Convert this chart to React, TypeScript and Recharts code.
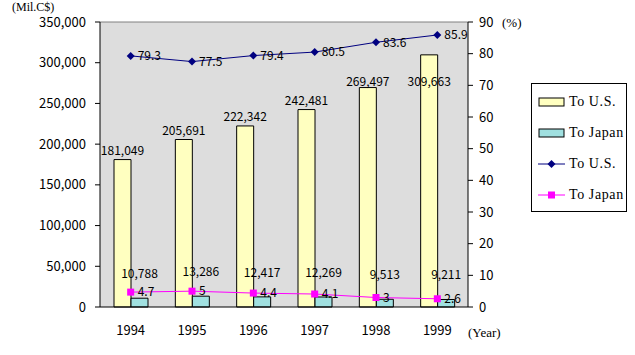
import React from 'react'
import {
  ComposedChart, Bar, Line, XAxis, YAxis, CartesianGrid, Legend, LabelList, ReferenceLine,
} from 'recharts'

const years = ['1994', '1995', '1996', '1997', '1998', '1999']
const exportsUS = [181049, 205691, 222342, 242481, 269497, 309663]
const exportsJapan = [10788, 13286, 12417, 12269, 9513, 9211]
const shareUS = [79.3, 77.5, 79.4, 80.5, 83.6, 85.9]
const shareJapan = [4.7, 5, 4.4, 4.1, 3, 2.6]
const leftTicks = [0, 50000, 100000, 150000, 200000, 250000, 300000, 350000]
const rightTicks = [0, 10, 20, 30, 40, 50, 60, 70, 80, 90]

const data = years.map((year, i) => ({
  year,
  usVal: exportsUS[i],
  jpVal: exportsJapan[i],
  usPct: shareUS[i],
  jpPct: shareJapan[i],
}))

const gothic = '"Noto Sans CJK JP", "DejaVu Sans", sans-serif'
const mincho = '"Liberation Serif", "DejaVu Serif", serif'

const fmt = (v: number) => v.toLocaleString('en-US')

const Diamond = (props: any) => {
  const { cx, cy } = props
  if (cx == null || cy == null) return null
  return <path d={`M${cx},${cy - 4}L${cx + 4},${cy}L${cx},${cy + 4}L${cx - 4},${cy}Z`} fill="#000080" />
}

const Square = (props: any) => {
  const { cx, cy } = props
  if (cx == null || cy == null) return null
  return <rect x={cx - 3.5} y={cy - 3.5} width={7} height={7} fill="#FF00FF" />
}

// US bar labels sit above the bar, but never climb into the share line labels
const UsLabel = (props: any) => {
  const { x, y, width, value } = props
  const ty = Math.max(y - 5, 86)
  return (
    <text x={x + width / 2} y={ty} textAnchor="middle" fontSize={12} fontFamily={gothic} fill="#000">
      {fmt(value)}
    </text>
  )
}

const JpLabel = (props: any) => {
  const { x, y, width, value } = props
  return (
    <text x={x + width / 2} y={y - 20} textAnchor="middle" fontSize={12} fontFamily={gothic} fill="#000">
      {fmt(value)}
    </text>
  )
}

const legendItems = [
  { label: 'To U.S.', kind: 'bar', color: '#FFFFC0' },
  { label: 'To Japan', kind: 'bar', color: '#A0E0E0' },
  { label: 'To U.S.', kind: 'line', color: '#000080' },
  { label: 'To Japan', kind: 'line', color: '#FF00FF' },
]

const LegendBox = () => (
  <div style={{ width: 96, height: 129, border: '1px solid #000', background: '#fff', boxSizing: 'border-box', paddingTop: 2 }}>
    {legendItems.map((it, i) => (
      <div key={i} style={{ display: 'flex', alignItems: 'center', height: 31, paddingLeft: 6 }}>
        <svg width={28} height={10} style={{ marginRight: 3 }}>
          {it.kind === 'bar' ? (
            <rect x={1} y={1} width={25} height={8} fill={it.color} stroke="#000" />
          ) : (
            <>
              <line x1={0} y1={5} x2={27} y2={5} stroke={it.color} strokeWidth={1} />
              {i === 2 ? (
                <path d="M13.5,1L17.5,5L13.5,9L9.5,5Z" fill={it.color} />
              ) : (
                <rect x={10} y={1.5} width={7} height={7} fill={it.color} />
              )}
            </>
          )}
        </svg>
        <span style={{ fontFamily: mincho, fontSize: 14, letterSpacing: 0.6, color: '#000' }}>{it.label}</span>
      </div>
    ))}
  </div>
)

const tickStyle = { fontSize: 13, fontFamily: gothic, fill: '#000' }

export default function App() {
  return (
    <div style={{ position: 'absolute', left: 0, top: 0, background: '#fff' }}>
      <ComposedChart
        width={635}
        height={355}
        data={data}
        margin={{ top: 22, right: 11, left: 0, bottom: 18 }}
        barGap={0}
        barSize={17}
      >
        <CartesianGrid fill="#DDDDDD" horizontal={false} vertical={false} />
        <XAxis
          dataKey="year"
          tick={tickStyle}
          tickLine={false}
          tickMargin={13}
          axisLine={{ stroke: '#000' }}
          height={30}
          label={{
            content: () => (
              <text x={468} y={337} fontSize={13} fontFamily={mincho} fill="#000">(Year)</text>
            ),
          }}
        />
        <YAxis
          yAxisId="left"
          width={100}
          domain={[0, 350000]}
          ticks={leftTicks}
          tickFormatter={fmt}
          tick={tickStyle}
          tickSize={5}
          tickMargin={9}
          axisLine={{ stroke: '#000' }}
          tickLine={{ stroke: '#000' }}
          label={{
            content: () => (
              <text x={12} y={11} fontSize={12} fontFamily={mincho} fill="#000">(Mil.C$)</text>
            ),
          }}
        />
        <YAxis
          yAxisId="right"
          orientation="right"
          width={60}
          domain={[0, 90]}
          ticks={rightTicks}
          tick={tickStyle}
          tickSize={5}
          tickMargin={6}
          axisLine={{ stroke: '#000' }}
          tickLine={{ stroke: '#000' }}
          label={{
            content: () => (
              <text x={502} y={27} fontSize={13} fontFamily={mincho} fill="#000">(%)</text>
            ),
          }}
        />
        <ReferenceLine yAxisId="left" y={350000} stroke="#808080" />
        <Bar yAxisId="left" dataKey="usVal" name="To U.S." fill="#FFFFC0" stroke="#000" isAnimationActive={false}>
          <LabelList dataKey="usVal" content={UsLabel} />
        </Bar>
        <Bar yAxisId="left" dataKey="jpVal" name="To Japan" fill="#A0E0E0" stroke="#000" isAnimationActive={false}>
          <LabelList dataKey="jpVal" content={JpLabel} />
        </Bar>
        <Line
          yAxisId="right"
          dataKey="usPct"
          name="To U.S."
          stroke="#000080"
          strokeWidth={1}
          dot={<Diamond />}
          activeDot={false}
          isAnimationActive={false}
        >
          <LabelList dataKey="usPct" position="right" offset={7} style={{ fontSize: 12, fontFamily: gothic, fill: '#000' }} />
        </Line>
        <Line
          yAxisId="right"
          dataKey="jpPct"
          name="To Japan"
          stroke="#FF00FF"
          strokeWidth={1}
          dot={<Square />}
          activeDot={false}
          isAnimationActive={false}
        >
          <LabelList dataKey="jpPct" position="right" offset={7} style={{ fontSize: 12, fontFamily: gothic, fill: '#000' }} />
        </Line>
        <Legend
          content={<LegendBox />}
          layout="vertical"
          verticalAlign="top"
          align="right"
          wrapperStyle={{ position: 'absolute', left: 531, top: 83, width: 96 }}
        />
      </ComposedChart>
    </div>
  )
}
